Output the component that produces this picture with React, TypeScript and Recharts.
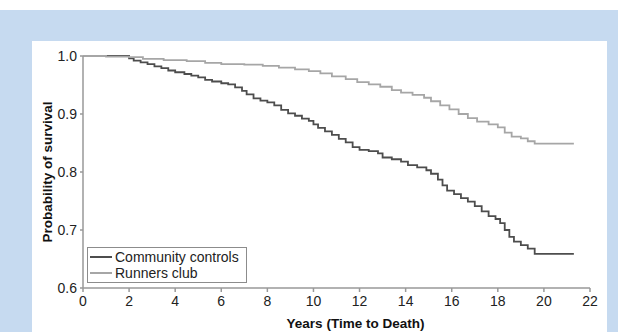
import React from "react";
import { LineChart, Line, XAxis, YAxis } from "recharts";

// Kaplan-Meier style survival curves
const communityYears = [
  0, 1.8, 2.0, 2.2, 2.5, 2.8, 3.1, 3.4, 3.7, 4.0, 4.4, 4.7, 5.0, 5.3, 5.6, 6.0, 6.3, 6.6, 6.9, 7.1,
  7.4, 7.7, 8.0, 8.3, 8.6, 8.9, 9.2, 9.5, 9.8, 10.0, 10.2, 10.5, 10.8, 11.1, 11.4, 11.7, 12.0, 12.4,
  12.8, 13.0, 13.4, 13.8, 14.1, 14.5, 14.9, 15.1, 15.4, 15.6, 15.8, 16.1, 16.4, 16.7, 17.0, 17.3,
  17.6, 17.9, 18.1, 18.3, 18.5, 18.7, 19.0, 19.3, 19.6, 21.3,
];
const communitySurvival = [
  1.0, 1.0, 0.996, 0.992, 0.989, 0.986, 0.982, 0.979, 0.975, 0.972, 0.969, 0.966, 0.963, 0.959,
  0.956, 0.953, 0.951, 0.946, 0.94, 0.934, 0.927, 0.923, 0.92, 0.915, 0.907, 0.901, 0.897, 0.892,
  0.888, 0.882, 0.876, 0.87, 0.864, 0.857, 0.851, 0.843, 0.838, 0.836, 0.832, 0.825, 0.822, 0.818,
  0.812, 0.808, 0.803, 0.797, 0.787, 0.777, 0.768, 0.762, 0.755, 0.749, 0.741, 0.732, 0.724, 0.719,
  0.712, 0.7, 0.688, 0.68, 0.674, 0.668, 0.659, 0.659,
];

const runnersYears = [
  0, 1.0, 2.0, 2.6, 3.5, 4.5, 5.3, 6.0, 7.0, 7.8, 8.5, 9.2, 9.8, 10.3, 10.8, 11.4, 11.9, 12.4, 12.9,
  13.4, 13.8, 14.3, 14.8, 15.1, 15.5, 15.9, 16.3, 16.7, 17.1, 17.6, 18.0, 18.3, 18.6, 19.0, 19.3,
  19.6, 21.3,
];
const runnersSurvival = [
  1.0, 0.999, 0.998, 0.995, 0.993, 0.991, 0.988, 0.986, 0.985, 0.983, 0.98, 0.977, 0.974, 0.97,
  0.965, 0.96, 0.955, 0.951, 0.947, 0.941, 0.937, 0.933, 0.928, 0.922, 0.915, 0.908, 0.9, 0.893,
  0.887, 0.882, 0.877, 0.868, 0.861, 0.858, 0.853, 0.849, 0.849,
];

const xTicks = [0, 2, 4, 6, 8, 10, 12, 14, 16, 18, 20, 22];
const yTicks = [0.6, 0.7, 0.8, 0.9, 1.0];

const seriesNames = ["Community controls", "Runners club"];
const seriesColors = ["#4d4d4d", "#a6a6a6"];

const community = communityYears.map((t, i) => ({ t, s: communitySurvival[i] }));
const runners = runnersYears.map((t, i) => ({ t, s: runnersSurvival[i] }));

const font = "'Liberation Sans', Arial, sans-serif";
const tickStyle = { fill: "#222", fontSize: 14, fontFamily: font };
const labelStyle = { fontFamily: font, fontSize: 13.5, fontWeight: "bold", fill: "#111" };

// legend box in the lower-left corner of the plot
const LegendBox = () => (
  <div
    style={{
      position: "absolute",
      left: 87,
      top: 247,
      width: 156,
      border: "1px solid #8c8c8c",
      background: "#fff",
      padding: "1px 0 1px 2px",
      fontFamily: font,
      fontSize: 14,
      color: "#222",
      lineHeight: "16px",
    }}
  >
    {seriesNames.map((name, i) => (
      <div key={name} style={{ display: "flex", alignItems: "center", height: 16 }}>
        <span
          style={{
            display: "inline-block",
            width: 22,
            height: 2,
            background: seriesColors[i],
            marginRight: 3,
          }}
        />
        {name}
      </div>
    ))}
  </div>
);

const App: React.FC = () => {
  return (
    <div
      style={{
        position: "fixed",
        left: 0,
        top: 0,
        width: 618,
        height: 332,
        background: "#fff",
        overflow: "hidden",
      }}
    >
      <div style={{ position: "absolute", left: 0, top: 10, width: 618, height: 322, background: "#c6daf0" }} />
      <div style={{ position: "absolute", left: 32, top: 41, width: 575, height: 291, background: "#fff" }} />
      <div style={{ position: "absolute", left: 0, top: 0 }}>
        <LineChart width={618} height={332} margin={{ top: 56, right: 28, bottom: 14, left: 33 }}>
          <XAxis
            dataKey="t"
            type="number"
            domain={[0, 22]}
            ticks={xTicks}
            height={30}
            stroke="#999"
            strokeWidth={1.5}
            tickSize={4}
            tickMargin={4}
            tick={tickStyle}
            allowDuplicatedCategory={false}
            label={{
              value: "Years (Time to Death)",
              position: "bottom",
              offset: 0,
              dx: 19,
              style: labelStyle,
            }}
          />
          <YAxis
            type="number"
            domain={[0.6, 1.0]}
            ticks={yTicks}
            width={50}
            stroke="#999"
            strokeWidth={1.5}
            tickSize={3}
            tickMargin={3}
            tickFormatter={(v: number) => v.toFixed(1)}
            tick={tickStyle}
            label={{
              value: "Probability of survival",
              angle: -90,
              position: "insideLeft",
              offset: 14,
              style: { ...labelStyle, textAnchor: "middle" },
            }}
          />
          <Line
            data={community}
            dataKey="s"
            type="stepAfter"
            name={seriesNames[0]}
            stroke={seriesColors[0]}
            strokeWidth={1.8}
            dot={false}
            isAnimationActive={false}
          />
          <Line
            data={runners}
            dataKey="s"
            type="stepAfter"
            name={seriesNames[1]}
            stroke={seriesColors[1]}
            strokeWidth={1.8}
            dot={false}
            isAnimationActive={false}
          />
        </LineChart>
      </div>
      <LegendBox />
    </div>
  );
};

export default App;
